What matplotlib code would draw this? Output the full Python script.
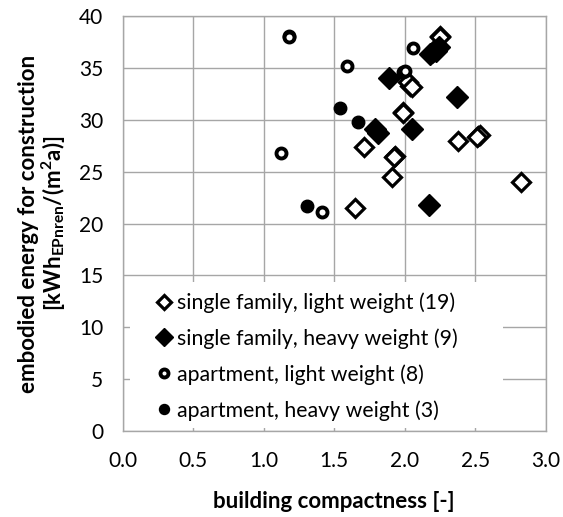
import matplotlib
matplotlib.use('Agg')
import matplotlib.pyplot as plt
from matplotlib.patches import Rectangle

# single family, light weight (open diamonds)
sf_light_x = [2.25, 2.04, 2.02, 1.99, 1.71, 2.38, 2.52, 2.53, 1.93, 1.91, 2.82, 1.65,
              2.20, 2.22, 2.05, 2.51, 1.99, 2.25, 1.92]
sf_light_y = [38.1, 33.3, 33.6, 30.8, 27.4, 28.0, 28.4, 28.5, 26.5, 24.5, 24.0, 21.5,
              36.5, 36.9, 33.2, 28.3, 30.7, 38.0, 26.4]
# single family, heavy weight (filled diamonds)
sf_heavy_x = [2.18, 2.22, 2.24, 1.89, 2.37, 1.79, 1.81, 2.05, 2.17]
sf_heavy_y = [36.3, 36.6, 37.0, 34.0, 32.2, 29.1, 28.7, 29.1, 21.8]
# apartment, light weight (open circles)
ap_light_x = [1.18, 2.06, 1.59, 1.99, 1.12, 1.41, 2.00, 1.18]
ap_light_y = [38.1, 36.9, 35.2, 34.6, 26.8, 21.1, 34.7, 38.0]
# apartment, heavy weight (filled circles)
ap_heavy_x = [1.54, 1.67, 1.31]
ap_heavy_y = [31.1, 29.8, 21.7]

labels = ['single family, light weight (19)', 'single family, heavy weight (9)',
          'apartment, light weight (8)', 'apartment, heavy weight (3)']

plt.rcParams['font.family'] = ['Lato', 'DejaVu Sans']
plt.rcParams['mathtext.fontset'] = 'custom'
plt.rcParams['mathtext.rm'] = 'Lato:bold'

fig = plt.figure(figsize=(5.63, 5.17), dpi=100)
ax = fig.add_axes([0.2176, 0.166, 0.7522, 0.803])

ax.plot(sf_light_x, sf_light_y, 'D', ms=9.5, mfc='white', mec='black', mew=2.3,
        ls='none', label=labels[0], zorder=4)
ax.plot(sf_heavy_x, sf_heavy_y, 'D', ms=11, mfc='black', mec='black', mew=1,
        ls='none', label=labels[1], zorder=4)
ax.plot(ap_light_x, ap_light_y, 'o', ms=7.2, mfc='white', mec='black', mew=2.8,
        ls='none', label=labels[2], zorder=4)
ax.plot(ap_heavy_x, ap_heavy_y, 'o', ms=9, mfc='black', mec='black', mew=1,
        ls='none', label=labels[3], zorder=4)

ax.set_xlim(0, 3)
ax.set_ylim(0, 40)
ax.set_xticks([0, 0.5, 1.0, 1.5, 2.0, 2.5, 3.0])
ax.set_xticklabels(['0.0', '0.5', '1.0', '1.5', '2.0', '2.5', '3.0'])
ax.set_yticks(range(0, 41, 5))
ax.grid(True, color='#a6a6a6', lw=1.0)
ax.set_axisbelow(True)
for s in ax.spines.values():
    s.set_color('#a6a6a6')
    s.set_linewidth(1.0)
ax.tick_params(length=0, labelsize=15, pad=14, colors='black')

# white box behind legend
ax.add_patch(Rectangle((0.053, 0.3), 2.642, 14.07, facecolor='white',
                       edgecolor='none', zorder=2.5))
leg = ax.legend(loc='upper left', bbox_to_anchor=(0.055, 0.36), frameon=False,
                fontsize=15.3, handlelength=0.7, handletextpad=0.25,
                labelspacing=0.72, markerscale=0.8, borderpad=0)
leg.set_zorder(5)

ax.set_xlabel('building compactness [-]', fontsize=16, fontweight='bold', labelpad=15)
ax.set_ylabel('embodied energy for construction\n'
              r'[kWh$_\mathrm{EPnren}$/(m$^\mathrm{2}$a)]',
              fontsize=16, fontweight='bold', labelpad=8, linespacing=1.0)

fig.savefig('out.png', dpi=100)
